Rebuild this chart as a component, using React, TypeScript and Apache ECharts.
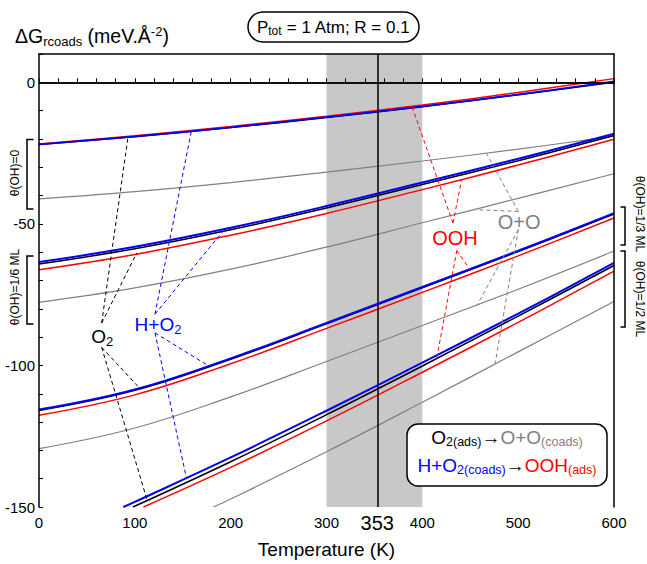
import React, { useEffect, useRef } from 'react';
import * as echarts from 'echarts';

const FONT = '"Liberation Sans", Arial, Helvetica, sans-serif';

// ---- data ----
const TEMPS = [0, 100, 200, 300, 400, 500, 600];
// theta(OH) = 0
const G1_BLUE = [-21.9, -19.1, -15.9, -12.3, -8.5, -4.3, 0.3];
const G1_BLACK = [-22.0, -19.2, -16.0, -12.4, -8.6, -4.4, 0.0];
const G1_RED = [-21.8, -18.9, -15.6, -12.0, -8.0, -3.6, 1.3];
const G1_GRAY = [-41.2, -38.6, -35.4, -31.7, -27.8, -23.6, -19.0];
// theta(OH) = 1/6 ML
const G2_BLUE = [-63.5, -58.1, -51.4, -43.7, -35.4, -27.0, -18.2];
const G2_BLACK = [-64.2, -58.8, -52.1, -44.4, -36.1, -27.7, -18.8];
const G2_RED = [-66.2, -60.8, -54.0, -46.3, -37.9, -29.2, -20.1];
const G2_GRAY = [-77.7, -72.6, -66.0, -58.2, -49.6, -41.0, -32.3];
// theta(OH) = 1/3 ML
const G3_BLUE = [-115.6, -108.5, -97.5, -85.0, -72.3, -59.5, -46.2];
const G3_BLACK = [-115.9, -108.8, -97.8, -85.3, -72.6, -59.8, -46.5];
const G3_RED = [-117.6, -110.4, -99.4, -86.9, -74.2, -61.3, -47.9];
const G3_GRAY = [-129.4, -122.1, -111.1, -98.6, -85.9, -73.1, -59.6];
// theta(OH) = 1/2 ML
const G4_BLUE_T = [88, 100, 200, 300, 400, 500, 600];
const G4_BLUE = [-150, -148.2, -132.5, -116.0, -99.0, -81.7, -63.8];
const G4_BLACK_T = [98, 200, 300, 400, 500, 600];
const G4_BLACK = [-150, -134.0, -117.4, -100.2, -82.6, -64.7];
const G4_RED_T = [109, 200, 300, 400, 500, 600];
const G4_RED = [-150, -136.0, -119.6, -102.4, -84.8, -66.7];
const G4_GRAY_T = [182, 200, 300, 400, 500, 600];
const G4_GRAY = [-150, -147.2, -130.5, -113.0, -95.2, -77.4];

const BAND = [300, 400];
const MARK_T = 353;

// annotation leader lines [T, dG]
const O2_LINKS = [
  [[65.4, -85.0], [92.9, -19.3]],
  [[65.4, -85.0], [102, -60.3]],
  [[65.4, -93.6], [105.4, -108.2]],
  [[65.4, -93.6], [113, -147.8]],
];
const HO2_LINKS = [
  [[121, -81.9], [159, -17.2]],
  [[121, -81.9], [192.5, -52.4]],
  [[121, -88.5], [175.3, -99.8]],
  [[121, -88.5], [154, -140.0]],
];
const OOH_LINKS = [
  [[432, -49.7], [389, -8.4]],
  [[432, -49.7], [441, -34.4]],
  [[436, -59.4], [452, -67.3]],
  [[436, -59.4], [415, -97.5]],
];
const OO_LINKS = [
  [[500.2, -45.6], [455, -45.0]],
  [[500.2, -45.6], [467.2, -25.3]],
  [[500.2, -52.0], [456.7, -79.0]],
  [[500.2, -52.0], [475.8, -99.5]],
];
const LABEL_POS = {
  o2: [66, -89.7],
  ho2: [124.2, -85.4],
  ooh: [434, -54.9],
  oo: [501, -49.5],
};

const BLUE = '#0000ff';
const RED = '#ff0000';
const BLACK = '#000000';
const GRAY = '#808080';

const main = (color: string, size: number) => ({ color, fill: color, fontSize: size, fontFamily: FONT, lineHeight: Math.round(size * 1.2), textBorderWidth: 0 });
const sub = (color: string, size: number) => ({ color, fill: color, fontSize: size, fontFamily: FONT, lineHeight: size, verticalAlign: 'bottom', textBorderWidth: 0 });
const sup = (color: string, size: number) => ({ color, fill: color, fontSize: size, fontFamily: FONT, lineHeight: size, verticalAlign: 'top', textBorderWidth: 0 });

function curve(name: string, xs: number[], ys: number[], color: string, width: number, z: number) {
  return {
    name,
    type: 'line',
    data: xs.map((t, i) => [t, ys[i]]),
    showSymbol: false,
    symbol: 'none',
    smooth: 0.4,
    clip: true,
    silent: true,
    z,
    lineStyle: { color, width },
  };
}

function links(data: number[][][], color: string) {
  return {
    type: 'lines',
    coordinateSystem: 'cartesian2d',
    silent: true,
    z: 6,
    data: data.map((c) => ({ coords: c })),
    lineStyle: { color, width: 1, type: [4, 3], opacity: 1 },
  };
}

export default function App() {
  const ref = useRef<HTMLDivElement>(null);
  useEffect(() => {
    document.body.style.margin = '0';
    const chart = echarts.init(ref.current!, null, { renderer: 'svg' });

    const richAll: any = {
      k: main(BLACK, 19), ks: sub(BLACK, 13),
      b: main(BLUE, 19), bs: sub(BLUE, 13),
      r: main(RED, 20), g: main(GRAY, 20),
    };

    const option: any = {
      animation: false,
      textStyle: { fontFamily: FONT },
      grid: { left: 39, right: 33, top: 54, bottom: 49 },
      xAxis: [
        {
          type: 'value', min: 0, max: 600, interval: 20, z: 10,
          axisLine: { show: true, lineStyle: { color: '#000', width: 1.5 } },
          axisTick: { show: true, inside: true, length: 4, lineStyle: { color: '#000', width: 1 } },
          axisLabel: { formatter: (v: number) => (v % 100 === 0 ? String(v) : ''), color: '#000', fontSize: 15, margin: 8, fontFamily: FONT },
          splitLine: { show: false },
          name: 'Temperature (K)', nameLocation: 'middle', nameGap: 32,
          nameTextStyle: { fontSize: 19, lineHeight: 20, color: '#000', fontFamily: FONT },
        },
        {
          type: 'value', position: 'top', min: 0, max: 600, z: 10,
          axisLine: { show: true, onZero: false, lineStyle: { color: '#000', width: 1.5 } },
          axisTick: { show: false }, axisLabel: { show: false }, splitLine: { show: false },
        },
      ],
      yAxis: [
        {
          type: 'value', min: -150, max: 10, interval: 10, z: 10,
          axisLine: { show: true, onZero: false, lineStyle: { color: '#000', width: 1.5 } },
          axisTick: { show: true, inside: true, length: 4, lineStyle: { color: '#000', width: 1 } },
          axisLabel: { formatter: (v: number) => (v % 50 === 0 && v <= 0 ? String(v) : ''), color: '#000', fontSize: 15, margin: 4, fontFamily: FONT },
          splitLine: { show: false },
        },
        {
          type: 'value', position: 'right', min: -150, max: 10, z: 10,
          axisLine: { show: true, onZero: false, lineStyle: { color: '#000', width: 1.5 } },
          axisTick: { show: false }, axisLabel: { show: false }, splitLine: { show: false },
        },
      ],
      series: [
        {
          type: 'line', data: [], z: 0, silent: true,
          markArea: {
            silent: true,
            itemStyle: { color: '#c8c8c8' },
            data: [[{ xAxis: BAND[0] }, { xAxis: BAND[1] }]],
          },
        },
        {
          type: 'line', data: [], z: 1, silent: true,
          markLine: {
            silent: true, symbol: ['none', 'none'],
            data: [
              {
                xAxis: MARK_T,
                lineStyle: { color: '#000', width: 1.5, type: 'solid' },
                label: { show: true, position: 'start', formatter: String(MARK_T), fontSize: 20, lineHeight: 20, color: '#000', fontFamily: FONT, distance: 6 },
              },
              {
                yAxis: 0,
                lineStyle: { color: '#000', width: 1.5, type: 'solid' },
                label: { show: false },
              },
            ],
          },
        },
        curve('g1gray', TEMPS, G1_GRAY, GRAY, 1.2, 2),
        curve('g2gray', TEMPS, G2_GRAY, GRAY, 1.2, 2),
        curve('g3gray', TEMPS, G3_GRAY, GRAY, 1.2, 2),
        curve('g4gray', G4_GRAY_T, G4_GRAY, GRAY, 1.2, 2),
        curve('g1black', TEMPS, G1_BLACK, BLACK, 1.5, 3),
        curve('g2black', TEMPS, G2_BLACK, BLACK, 1.5, 3),
        curve('g3black', TEMPS, G3_BLACK, BLACK, 1.5, 3),
        curve('g4black', G4_BLACK_T, G4_BLACK, BLACK, 1.5, 3),
        curve('g1red', TEMPS, G1_RED, RED, 1.5, 4),
        curve('g2red', TEMPS, G2_RED, RED, 1.5, 4),
        curve('g3red', TEMPS, G3_RED, RED, 1.5, 4),
        curve('g4red', G4_RED_T, G4_RED, RED, 1.5, 4),
        curve('g1blue', TEMPS, G1_BLUE, BLUE, 1.8, 5),
        curve('g2blue', TEMPS, G2_BLUE, BLUE, 2, 5),
        curve('g3blue', TEMPS, G3_BLUE, BLUE, 2, 5),
        curve('g4blue', G4_BLUE_T, G4_BLUE, BLUE, 2, 5),
        links(O2_LINKS, BLACK),
        links(HO2_LINKS, BLUE),
        links(OOH_LINKS, RED),
        links(OO_LINKS, GRAY),
        {
          type: 'scatter', z: 7, silent: true,
          symbol: 'circle', symbolSize: 0,
          itemStyle: { color: '#000', opacity: 1 },
          label: { show: true, position: 'inside', color: '#000', opacity: 1, textBorderWidth: 0, rich: richAll },
          data: [
            { value: LABEL_POS.o2, label: { formatter: '{k|O}{ks|2}' } },
            { value: LABEL_POS.ho2, label: { formatter: '{b|H+O}{bs|2}' } },
            { value: LABEL_POS.ooh, label: { formatter: '{r|OOH}' } },
            { value: LABEL_POS.oo, label: { formatter: '{g|O+O}' } },
          ],
        },
      ],
      graphic: [
        // y-axis title
        {
          type: 'text', x: 15, y: 36, z: 50,
          style: {
            text: '{m|ΔG}{s|rcoads}{m| (meV.Å}{p|-2}{m|)}',
            align: 'left', verticalAlign: 'middle',
            rich: { m: main(BLACK, 19.5), s: sub(BLACK, 13), p: sup(BLACK, 13) },
          },
        },
        // title box
        {
          type: 'rect', z: 50,
          shape: { x: 248, y: 12, width: 171, height: 30, r: 15 },
          style: { fill: '#fff', stroke: '#000', lineWidth: 1.5 },
        },
        {
          type: 'text', x: 333.5, y: 27, z: 51,
          style: {
            text: '{m|P}{s|tot}{m| = 1 Atm; R = 0.1}',
            align: 'center', verticalAlign: 'middle',
            rich: { m: main(BLACK, 17), s: sub(BLACK, 12) },
          },
        },
        // brackets left
        {
          type: 'polyline', z: 50,
          shape: { points: [[33.5, 139.5], [27, 139.5], [27, 209], [33.5, 209]] },
          style: { stroke: '#000', lineWidth: 1.5, fill: 'none' },
        },
        {
          type: 'polyline', z: 50,
          shape: { points: [[33.5, 256], [27, 256], [27, 324], [33.5, 324]] },
          style: { stroke: '#000', lineWidth: 1.5, fill: 'none' },
        },
        {
          type: 'text', x: 15, y: 173, rotation: Math.PI / 2, z: 50,
          style: { text: 'θ(OH)=0', fontSize: 12, fontFamily: FONT, fill: '#000', align: 'center', verticalAlign: 'middle' },
        },
        {
          type: 'text', x: 15, y: 287, rotation: Math.PI / 2, z: 50,
          style: { text: 'θ(OH)=1/6 ML', fontSize: 12, fontFamily: FONT, fill: '#000', align: 'center', verticalAlign: 'middle' },
        },
        // brackets right
        {
          type: 'polyline', z: 50,
          shape: { points: [[620.5, 207], [625, 207], [625, 245], [620.5, 245]] },
          style: { stroke: '#000', lineWidth: 1.5, fill: 'none' },
        },
        {
          type: 'polyline', z: 50,
          shape: { points: [[620.5, 251], [625, 251], [625, 327], [620.5, 327]] },
          style: { stroke: '#000', lineWidth: 1.5, fill: 'none' },
        },
        {
          type: 'text', x: 640, y: 214, rotation: -Math.PI / 2, z: 50,
          style: { text: 'θ(OH)=1/3 ML', fontSize: 12, fontFamily: FONT, fill: '#000', align: 'center', verticalAlign: 'middle' },
        },
        {
          type: 'text', x: 640, y: 299, rotation: -Math.PI / 2, z: 50,
          style: { text: 'θ(OH)=1/2 ML', fontSize: 12, fontFamily: FONT, fill: '#000', align: 'center', verticalAlign: 'middle' },
        },
        // reaction box
        {
          type: 'rect', z: 50,
          shape: { x: 407, y: 424, width: 200, height: 62, r: 11 },
          style: { fill: '#fff', stroke: '#000', lineWidth: 1.5 },
        },
        {
          type: 'text', x: 507, y: 437, z: 51,
          style: {
            text: '{k|O}{ks|2(ads)}{a|→}{g|O+O}{gs|(coads)}',
            align: 'center', verticalAlign: 'middle',
            rich: { k: main(BLACK, 19), ks: sub(BLACK, 12.5), a: main(BLACK, 19), g: main(GRAY, 19), gs: sub(GRAY, 12.5) },
          },
        },
        {
          type: 'text', x: 507, y: 465, z: 51,
          style: {
            text: '{b|H+O}{bs|2(coads)}{a|→}{r|OOH}{rs|(ads)}',
            align: 'center', verticalAlign: 'middle',
            rich: { b: main(BLUE, 19), bs: sub(BLUE, 12.5), a: main(BLACK, 19), r: main(RED, 19), rs: sub(RED, 12.5) },
          },
        },
      ],
    };

    chart.setOption(option);
    return () => chart.dispose();
  }, []);

  return <div ref={ref} style={{ position: 'absolute', left: 0, top: 0, width: 647, height: 564 }} />;
}
